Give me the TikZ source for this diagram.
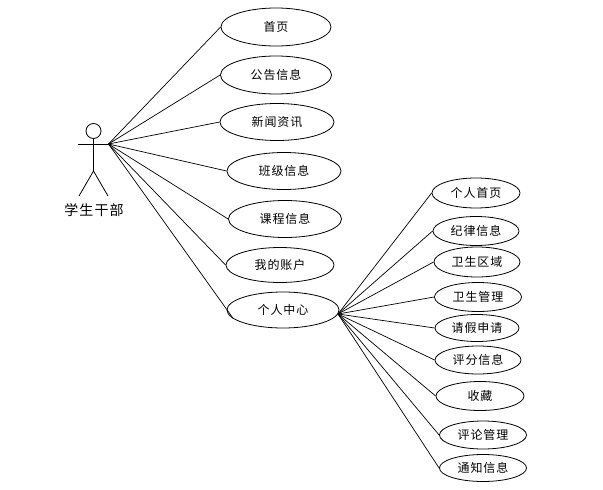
\documentclass[tikz,border=0pt]{standalone}
\usepackage{fontspec}
\newfontfamily\cjk[LetterSpace=8]{Noto Sans CJK SC}
\usetikzlibrary{shapes.geometric}
\tikzset{
  usecase/.style={draw, ellipse, line width=0.8pt, inner sep=0pt, font=\cjk\fontsize{12}{14}\selectfont},
  actorline/.style={line width=0.8pt},
  link/.style={line width=0.7pt}
}

\begin{document}
\begin{tikzpicture}[x=1pt, y=-1pt]
  \useasboundingbox (0, 0) rectangle (603, 490);

  % Actor on the left
  \node (Ahead) at (93.5, 131) [draw, actorline, circle, minimum size=15pt, inner sep=0pt] {};
  \coordinate (Aneck) at (93.5, 138.5);
  \coordinate (Ahip) at (93.5, 171);
  \coordinate (Alarm) at (78, 144);
  \coordinate (Ahub) at (108.5, 144);
  \coordinate (Alfoot) at (79, 196);
  \coordinate (Arfoot) at (108, 196);
  \draw[actorline] (Aneck) -- (Ahip);
  \draw[actorline] (Alarm) -- (Ahub);
  \draw[actorline] (Alfoot) -- (Ahip) -- (Arfoot);
  \node (Aname) at (94, 210) {\cjk\fontsize{14}{16}\selectfont 学生干部};

  % Main use cases
  \node (U0) at (276, 27) [usecase, minimum width=110pt, minimum height=38pt] {首页};
  \node (U1) at (276, 75) [usecase, minimum width=111pt, minimum height=38pt] {公告信息};
  \node (U2) at (277, 122) [usecase, minimum width=114pt, minimum height=37pt] {新闻资讯};
  \node (U3) at (284, 171) [usecase, minimum width=114pt, minimum height=37pt] {班级信息};
  \node (U4) at (285, 219) [usecase, minimum width=113pt, minimum height=37pt] {课程信息};
  \node (U5) at (280, 265) [usecase, minimum width=108pt, minimum height=35pt] {我的账户};
  \node (U6) at (283, 310) [usecase, minimum width=112pt, minimum height=36pt] {个人中心};

  % Personal centre use cases
  \node (C0) at (476, 193) [usecase, minimum width=88pt, minimum height=30pt] {个人首页};
  \node (C1) at (476, 231) [usecase, minimum width=86pt, minimum height=29pt] {纪律信息};
  \node (C2) at (477, 262) [usecase, minimum width=86pt, minimum height=30pt] {卫生区域};
  \node (C3) at (478, 297) [usecase, minimum width=87pt, minimum height=29pt] {卫生管理};
  \node (C4) at (477, 328) [usecase, minimum width=84pt, minimum height=27pt] {请假申请};
  \node (C5) at (478, 360) [usecase, minimum width=86pt, minimum height=28pt] {评分信息};
  \node (C6) at (480, 396) [usecase, minimum width=88pt, minimum height=29pt] {收藏};
  \node (C7) at (483, 435) [usecase, minimum width=87pt, minimum height=28pt] {评论管理};
  \node (C8) at (483, 468) [usecase, minimum width=87pt, minimum height=27pt] {通知信息};

  % Links from the actor
  \draw[link] (Ahub) -- (U0.west);
  \draw[link] (Ahub) -- (U1.west);
  \draw[link] (Ahub) -- (U2.west);
  \draw[link] (Ahub) -- (U3.west);
  \draw[link] (Ahub) -- (U4.west);
  \draw[link] (Ahub) -- (U5.west);
  \draw[link] (Ahub) -- (U6.190);

  % Links from the personal centre
  \coordinate (Chub) at (338, 314);
  \draw[link] (Chub) -- (C0.west);
  \draw[link] (Chub) -- (C1.west);
  \draw[link] (Chub) -- (C2.west);
  \draw[link] (Chub) -- (C3.west);
  \draw[link] (Chub) -- (C4.west);
  \draw[link] (Chub) -- (C5.west);
  \draw[link] (Chub) -- (C6.west);
  \draw[link] (Chub) -- (C7.west);
  \draw[link] (Chub) -- (C8.west);
\end{tikzpicture}
\end{document}
